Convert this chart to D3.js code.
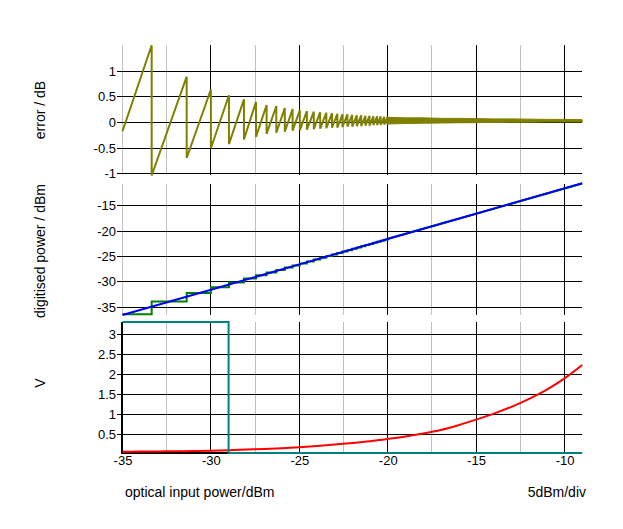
<!DOCTYPE html>
<html><head><meta charset="utf-8">
<script src="https://cdn.jsdelivr.net/npm/d3@7"></script>
<style>
html,body{margin:0;padding:0;background:#fff;}
svg{display:block;}
text{font-family:"Liberation Sans",Arial,sans-serif;fill:#000;}
</style>
</head><body><svg id="c" width="623" height="529"></svg>
<script>
// ---------- data ----------
const xTicks = [-35, -30, -25, -20, -15, -10];
const xMinor = [-32.5, -27.5, -22.5, -17.5, -12.5];
const errTicks = [-1, -0.5, 0, 0.5, 1];
const powTicks = [-35, -30, -25, -20, -15];
const vTicks = [0.5, 1, 1.5, 2, 2.5, 3];

// error trace (sawtooth): start point, then each tooth: peak before drop, value after drop
const errStart = [-35, -0.17];
const toothX  = [-33.35,-31.37,-30.00,-28.98,-28.13,-27.45,-26.85,-26.30,-25.82,-25.38,-24.97,-24.57,-24.18,-23.82,-23.47,-23.15,-22.85,-22.56,-22.28,-22.01,-21.75,-21.50,-21.26,-21.03,-20.81,-20.60,-20.40,-20.20,-20.01];
const toothHi = [1.50,0.89,0.64,0.53,0.45,0.40,0.34,0.32,0.28,0.26,0.24,0.22,0.21,0.20,0.19,0.18,0.17,0.16,0.16,0.15,0.14,0.14,0.13,0.13,0.12,0.12,0.12,0.11,0.11];
const toothLo = [-1.03,-0.69,-0.50,-0.42,-0.33,-0.28,-0.22,-0.20,-0.18,-0.16,-0.15,-0.14,-0.13,-0.12,-0.11,-0.10,-0.10,-0.09,-0.08,-0.08,-0.07,-0.07,-0.06,-0.06,-0.05,-0.05,-0.05,-0.04,-0.04];
// dense region: envelope of the error band
const bandX  = [-20.01,-19,-18,-17,-16,-15,-14,-13,-12,-11,-10,-9];
const bandHi = [0.10,0.09,0.09,0.08,0.08,0.075,0.07,0.07,0.065,0.06,0.06,0.055];
const bandLo = [-0.03,-0.02,-0.015,-0.01,-0.005,-0.002,0,0.005,0.005,0.01,0.01,0.01];

// digitised power
const blueX = [-35, -30, -25, -20, -15, -9];
const blueY = [-36.52, -31.52, -26.53, -21.52, -16.52, -10.52];
const greenLevels = [-36.35,-33.84,-32.20,-31.02,-30.08,-29.32,-28.69,-28.15,-27.62,-27.16,-26.74,-26.34,-25.95,-25.57,-25.22,-24.88,-24.57,-24.27,-23.99,-23.72,-23.45,-23.20,-22.95,-22.72,-22.49,-22.28,-22.07,-21.87,-21.68,-21.49];
const greenEnd = [-9, -10.56];

// voltages
const redX = [-35,-34,-33,-32,-31,-30,-29,-28,-27,-26,-25,-24,-23,-22,-21,-20,-19,-18,-17,-16,-15,-14,-13,-12,-11,-10,-9];
const redV = [0.057,0.060,0.064,0.068,0.074,0.083,0.095,0.110,0.125,0.145,0.170,0.200,0.235,0.275,0.320,0.375,0.435,0.510,0.600,0.720,0.860,1.010,1.180,1.380,1.610,1.890,2.225];
const tealX = [-35, -29, -29, -9];
const tealV = [3.3, 3.3, 0, 0];

// ---------- drawing ----------
const svg = d3.select("#c");
const x = d3.scaleLinear().domain([-35, -9]).range([122.5, 582.2]);
const px = v => Math.floor(x(v)) + 0.5;
const fmt = d => String(d);

const panels = [
  {y: d3.scaleLinear().domain([-1.02, 1.505]).range([175, 45]), top: 45, bot: 175, ticks: errTicks, leftBlack: false},
  {y: d3.scaleLinear().domain([-36.5, -10.66]).range([314.9, 184]), top: 184, bot: 314.5, ticks: powTicks, leftBlack: false},
  {y: d3.scaleLinear().domain([0, 3.3]).range([454, 322]), top: 322, bot: 454, ticks: vTicks, leftBlack: true}
];

panels.forEach(p => {
  const g = svg.append("g");
  g.selectAll(".mn").data(p.leftBlack ? xMinor : [-35].concat(xMinor)).enter().append("line")
    .attr("x1", d => px(d)).attr("x2", d => px(d))
    .attr("y1", p.top).attr("y2", p.bot)
    .attr("stroke", "#c0c0c0").attr("stroke-width", 1).attr("shape-rendering", "crispEdges");
  g.selectAll(".mj").data(xTicks.filter(d => d !== -35)).enter().append("line")
    .attr("x1", d => px(d)).attr("x2", d => px(d))
    .attr("y1", p.top).attr("y2", p.bot)
    .attr("stroke", "#000").attr("stroke-width", 1).attr("shape-rendering", "crispEdges");
  const ax = d3.axisLeft(p.y).tickValues(p.ticks).tickSize(-(582 - 117)).tickPadding(1).tickFormat(fmt);
  const ag = svg.append("g").attr("transform", "translate(117,0)").call(ax);
  ag.select(".domain").remove();
  ag.selectAll(".tick line").attr("stroke", "#000").attr("shape-rendering", "crispEdges");
  ag.selectAll(".tick text").attr("font-size", 13).attr("font-family", '"Liberation Sans",Arial,sans-serif');
  ag.attr("font-size", null).attr("font-family", null);
  ag.selectAll(".tick").attr("transform", d => "translate(0," + (Math.floor(p.y(d)) + 0.5) + ")");
});

svg.append("line").attr("x1", 122).attr("x2", 122).attr("y1", 322).attr("y2", 454)
  .attr("stroke", "#000").attr("stroke-width", 2).attr("shape-rendering", "crispEdges");
const xa = d3.axisBottom(x).tickValues(xTicks).tickSize(0).tickPadding(3).tickFormat(fmt);
const xg = svg.append("g").attr("transform", "translate(0,453)").call(xa);
xg.select(".domain").attr("stroke", "#000").attr("stroke-width", 2).attr("d", "M122,0H582");
xg.selectAll(".tick text").attr("font-size", 13).attr("font-family", '"Liberation Sans",Arial,sans-serif');
xg.attr("font-size", null).attr("font-family", null);

// ---- top panel: error ----
const yE = panels[0].y;
const errPts = [errStart];
toothX.forEach((t, i) => { errPts.push([t, toothHi[i]]); errPts.push([t, toothLo[i]]); });
errPts.push([bandX[0], bandHi[0]]);
svg.append("path").datum(errPts)
  .attr("d", d3.line().x(d => x(d[0])).y(d => yE(d[1])))
  .attr("fill", "none").attr("stroke", "#808000").attr("stroke-width", 2).attr("stroke-linejoin", "bevel");
svg.append("path").datum(bandX.map((b, i) => [b, bandHi[i], bandLo[i]]))
  .attr("d", d3.area().x(d => x(d[0])).y0(d => yE(d[2])).y1(d => yE(d[1])))
  .attr("fill", "#808000").attr("stroke", "#808000").attr("stroke-width", 1);

// ---- middle panel: digitised power ----
const yP = panels[1].y;
const greenPts = [[-35, greenLevels[0]]];
toothX.forEach((t, i) => { greenPts.push([t, greenLevels[i]]); greenPts.push([t, greenLevels[i + 1]]); });
greenPts.push(greenEnd);
svg.append("path").datum(greenPts)
  .attr("d", d3.line().x(d => x(d[0])).y(d => yP(d[1])))
  .attr("fill", "none").attr("stroke", "#008000").attr("stroke-width", 2);
svg.append("path").datum(blueX.map((b, i) => [b, blueY[i]]))
  .attr("d", d3.line().x(d => x(d[0])).y(d => yP(d[1])))
  .attr("fill", "none").attr("stroke", "#0000ff").attr("stroke-width", 2);

// ---- bottom panel: voltages ----
const yV = panels[2].y;
svg.append("path").datum(redX.map((r, i) => [r, redV[i]]))
  .attr("d", d3.line().curve(d3.curveMonotoneX).x(d => x(d[0])).y(d => yV(d[1])))
  .attr("fill", "none").attr("stroke", "#ff0000").attr("stroke-width", 2);
svg.append("path").datum(tealX.map((t, i) => [t, tealV[i]]))
  .attr("d", d3.line().x(d => x(d[0])).y(d => yV(d[1]) - (d[1] === 0 ? 1 : 0)))
  .attr("fill", "none").attr("stroke", "#008080").attr("stroke-width", 2);

// ---- titles ----
function title(txt, tx, ty, rot, anchor) {
  svg.append("text").text(txt).attr("font-size", 14)
    .attr("text-anchor", anchor)
    .attr("transform", "translate(" + tx + "," + ty + ")" + (rot ? " rotate(-90)" : ""));
}
title("error / dB", 45, 110, true, "middle");
title("digitised power / dBm", 45, 251, true, "middle");
title("V", 45, 383, true, "middle");
title("optical input power/dBm", 125, 497, false, "start");
title("5dBm/div", 586, 497, false, "end");
</script></body></html>
